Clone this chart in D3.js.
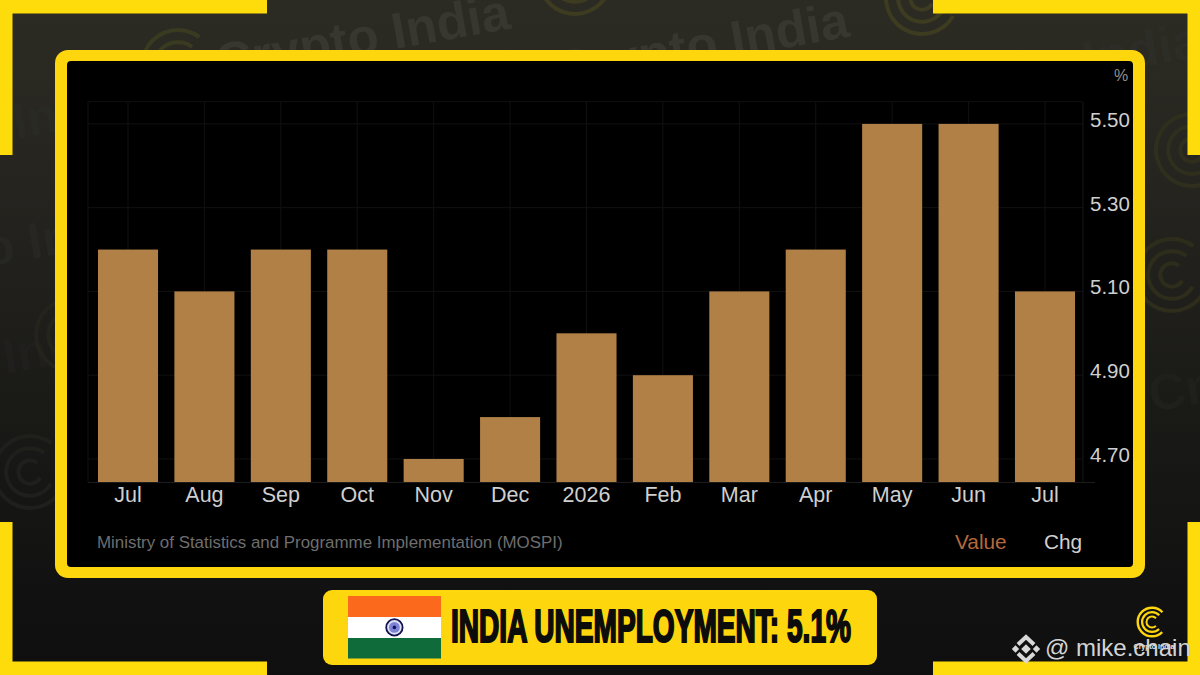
<!DOCTYPE html>
<html>
<head>
<meta charset="utf-8">
<script src="https://cdn.jsdelivr.net/npm/d3@7"></script>
<style>
  html, body { margin: 0; padding: 0; background: #111; overflow: hidden; }
  svg { display: block; }
  text { font-family: "Liberation Sans", Arial, sans-serif; }
</style>
</head>
<body>
<div id="chart"></div>
<script>
const months = ["Jul","Aug","Sep","Oct","Nov","Dec","2026","Feb","Mar","Apr","May","Jun","Jul"];
const values = [5.2,5.1,5.2,5.2,4.7,4.8,5.0,4.9,5.1,5.2,5.5,5.5,5.1];
const yTicks = [4.7,4.9,5.1,5.3,5.5];
const sourceText = "Ministry of Statistics and Programme Implementation (MOSPI)";
const headline = "INDIA UNEMPLOYMENT: 5.1%";

const W = 1200, H = 675;
const yellow = "#fdd60e";

const svg = d3.select("#chart").append("svg").attr("width", W).attr("height", H);

// background
const defs = svg.append("defs");
const bg = defs.append("linearGradient").attr("id","bg").attr("x1",0).attr("x2",0).attr("y1",0).attr("y2",1);
bg.append("stop").attr("offset","0%").attr("stop-color","#2c2b23");
bg.append("stop").attr("offset","28%").attr("stop-color","#25241f");
bg.append("stop").attr("offset","60%").attr("stop-color","#1a1a17");
bg.append("stop").attr("offset","85%").attr("stop-color","#121212");
bg.append("stop").attr("offset","100%").attr("stop-color","#0f0f0f");
svg.append("rect").attr("width",W).attr("height",H).attr("fill","url(#bg)");

// faint watermarks behind the card
function ring(g, cx, cy, r, color) {
  [r, r*0.68, r*0.36].forEach(rr => {
    g.append("path")
      .attr("d", d3.arc().innerRadius(rr-4).outerRadius(rr).startAngle(2.3).endAngle(7.13)())
      .attr("transform", `translate(${cx},${cy}) rotate(-12)`)
      .attr("fill", color);
  });
}
const wm = svg.append("g");
[[219,80,"Crypto India","#37362f"],[558,88,"Crypto India","#37362f"],[910,108,"Crypto India","#2d2d27"],
 [-160,170,"Crypto India","#2a2a25"],[-145,290,"Crypto India","#262622"],[-170,405,"Crypto India","#201f1d"],
 [1152,412,"Crypto India","#1f1f1c"]].forEach(d => {
  wm.append("text").attr("x",d[0]).attr("y",d[1])
    .attr("transform",`rotate(-10 ${d[0]} ${d[1]})`)
    .attr("font-size",51).attr("font-weight",700)
    .attr("fill",d[3]).text(d[2]);
});
[[178,66,"#3a3a20"],[575,-22,"#3d3c20"],[922,-2,"#3d3c20"],[1192,150,"#302f1e"],[1172,275,"#2e2d1c"],[72,335,"#24241d"],[30,472,"#1f1f1c"]]
  .forEach(d => ring(wm,d[0],d[1],38,d[2]));

// corner brackets
const bracketLen = 267, thick = 12.5;
[[0,0,1,1,155],[W,0,-1,1,155],[0,H,1,-1,153],[W,H,-1,-1,153]].forEach(c => {
  const g = svg.append("g").attr("transform",`translate(${c[0]},${c[1]}) scale(${c[2]},${c[3]})`).attr("fill","#fedb0a");
  g.append("rect").attr("width",bracketLen).attr("height",thick+1);
  g.append("rect").attr("width",thick).attr("height",c[4]);
});

// card
svg.append("rect").attr("x",55).attr("y",50).attr("width",1090).attr("height",528).attr("rx",13).attr("fill",yellow);
svg.append("rect").attr("x",67).attr("y",61).attr("width",1066).attr("height",506).attr("rx",4).attr("fill","#000");

// scales
const x = d3.scaleBand().domain(d3.range(months.length)).range([89.8,1083.2]).paddingInner(0.214).paddingOuter(0.107);
const y = d3.scaleLinear().domain([4.645,5.553]).range([482,101.7]);

// grid, very faint in the original
const grid = svg.append("g").attr("stroke","#111").attr("stroke-width",1);
yTicks.forEach(t => grid.append("line").attr("x1",88).attr("x2",1083).attr("y1",y(t)).attr("y2",y(t)));
grid.append("line").attr("x1",88).attr("x2",1083).attr("y1",101.7).attr("y2",101.7);
months.forEach((m,i) => grid.append("line").attr("x1",x(i)+x.bandwidth()/2).attr("x2",x(i)+x.bandwidth()/2).attr("y1",101.7).attr("y2",482));
grid.append("line").attr("x1",88).attr("x2",88).attr("y1",101.7).attr("y2",482);
grid.append("line").attr("x1",1083).attr("x2",1083).attr("y1",101.7).attr("y2",482).attr("stroke","#161616");
grid.append("line").attr("x1",88).attr("x2",1095).attr("y1",482.5).attr("y2",482.5).attr("stroke","#1c1c1c");

// bars
svg.append("g").selectAll("rect").data(values).join("rect")
  .attr("x",(d,i) => x(i))
  .attr("width",x.bandwidth())
  .attr("y",d => y(d))
  .attr("height",d => y.range()[0]-y(d))
  .attr("fill","#b08046");

// axes
const xAxis = d3.axisBottom(x).tickFormat(i => months[i]).tickSize(0).tickPadding(0);
const gx = svg.append("g").attr("transform","translate(0,482)").call(xAxis);
gx.select(".domain").remove();
gx.selectAll("text").attr("font-size",21.5).attr("fill","#cfcfcf").attr("dy",null).attr("y",20).attr("font-family",'"Liberation Sans", Arial, sans-serif');

const yAxis = d3.axisRight(y).tickValues(yTicks).tickFormat(d3.format(".2f")).tickSize(0).tickPadding(0);
const gy = svg.append("g").attr("transform","translate(1090,-4)").call(yAxis);
gy.select(".domain").remove();
gy.selectAll("text").attr("font-size",20.5).attr("fill","#cfcfcf").attr("font-family",'"Liberation Sans", Arial, sans-serif');

svg.append("text").attr("x",1121).attr("y",81).attr("text-anchor","middle").attr("font-size",16).attr("fill","#8f8f8f").text("%");

// footer of the card
svg.append("text").attr("x",97).attr("y",547.5).attr("font-size",16.9).attr("fill","#6e6e6e").text(sourceText);
svg.append("text").attr("x",955).attr("y",549).attr("font-size",20.8).attr("fill","#b5693c").text("Value");
svg.append("text").attr("x",1044).attr("y",549).attr("font-size",20.8).attr("fill","#d0d0d0").text("Chg");

// headline plate
svg.append("rect").attr("x",323).attr("y",590).attr("width",554).attr("height",75).attr("rx",9).attr("fill",yellow);
svg.append("rect").attr("x",348).attr("y",596).attr("width",93).attr("height",21).attr("fill","#fb6a1c");
svg.append("rect").attr("x",348).attr("y",617).attr("width",93).attr("height",21).attr("fill","#fff");
svg.append("rect").attr("x",348).attr("y",638).attr("width",93).attr("height",20.5).attr("fill","#0f6b3a");
svg.append("circle").attr("cx",394.4).attr("cy",627.4).attr("r",8.2).attr("fill","#dfe0f4").attr("stroke","#12124e").attr("stroke-width",1.8);
svg.append("circle").attr("cx",394.4).attr("cy",627.4).attr("r",5.4).attr("fill","#7f83d6");
svg.append("circle").attr("cx",394.4).attr("cy",627.4).attr("r",1.8).attr("fill","#14145a");
svg.append("text").attr("x",451).attr("y",642).attr("font-size",46).attr("font-weight",700)
  .attr("font-family",'"Liberation Sans Narrow", "Liberation Sans", sans-serif')
  .attr("textLength",400).attr("lengthAdjust","spacingAndGlyphs")
  .attr("stroke","#0c0c0c").attr("stroke-width",2.2).attr("fill","#0c0c0c").text(headline);

// logo and handle
const logo = svg.append("g");
[[15.5,2.4],[11,2.2],[6.5,2]].forEach(r => {
  logo.append("path")
    .attr("d", d3.arc().innerRadius(r[0]-r[1]).outerRadius(r[0]).startAngle(2.35).endAngle(7.1)())
    .attr("transform","translate(1152,622)").attr("fill",yellow);
});
svg.append("text").attr("x",1154).attr("y",649).attr("text-anchor","middle").attr("font-size",7).attr("font-weight",700).attr("fill","#e8e8e8").text("Crypto India");

const bn = svg.append("g").attr("transform","translate(1026,649)");
[-1,1].forEach(s => {
  bn.append("path").attr("d",`M-8,${s*4.5}L0,${s*12}L8,${s*4.5}`).attr("fill","none").attr("stroke","#d8d8d8").attr("stroke-width",4);
});
[[0,0,3.4],[-10.5,0,2.6],[10.5,0,2.6]].forEach(p => {
  bn.append("rect").attr("x",p[0]-p[2]).attr("y",p[1]-p[2]).attr("width",p[2]*2).attr("height",p[2]*2)
    .attr("transform",`rotate(45 ${p[0]} ${p[1]})`).attr("fill","#d8d8d8");
});
svg.append("text").attr("x",1045).attr("y",656).attr("font-size",24).attr("font-family",'"Open Sans", sans-serif').attr("fill","#d4d4d4").text("@ mike.chain");
</script>
</body>
</html>
